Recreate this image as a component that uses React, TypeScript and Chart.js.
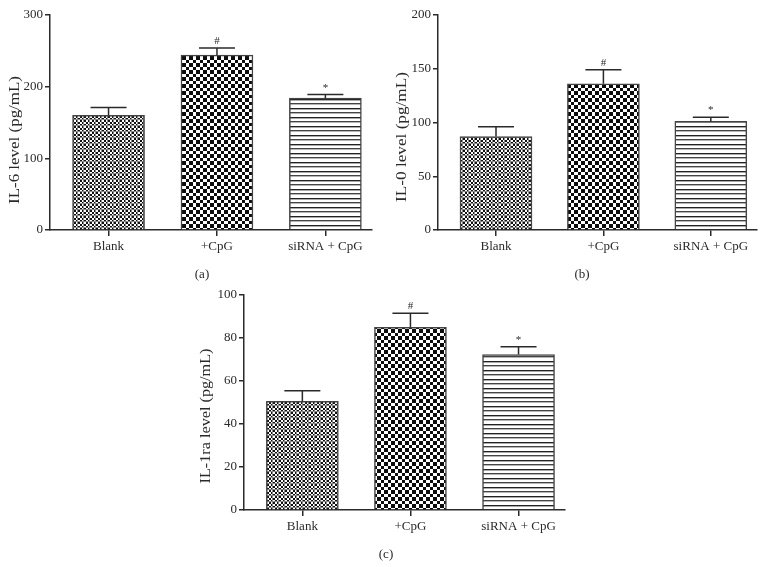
import React, { useEffect, useRef } from 'react';
import { Chart, registerables } from 'chart.js';

Chart.register(...registerables);

const categories = ['Blank', '+CpG', 'siRNA + CpG'];
const markers = ['', '#', '*'];

const il6Means = [160, 244, 184];
const il6Errors = [11, 10, 5];
const il0Means = [87, 136, 101];
const il0Errors = [9, 13, 4];
const il1raMeans = [50.5, 85, 72.3];
const il1raErrors = [5, 6.5, 3.6];

const yMaxes = [300, 200, 100];
const ySteps = [100, 50, 20];
const yTitles = ['IL-6 level (pg/mL)', 'IL-0 level (pg/mL)', 'IL-1ra level (pg/mL)'];
const panelLabels = ['(a)', '(b)', '(c)'];

const FONT = '"Liberation Serif", "Times New Roman", serif';
const INK = '#2a2a2a';

type Panel = {
  means: number[];
  errors: number[];
  yMax: number;
  yStep: number;
  title: string;
  label: string;
  left: number;
  top: number;
  width: number;
  height: number;
  area: { l: number; r: number; t: number; b: number };
  titlePos: { x: number; y: number; len: number };
  labelPos: { x: number; y: number };
};

const panels: Panel[] = [
  {
    means: il6Means, errors: il6Errors, yMax: yMaxes[0], yStep: ySteps[0], title: yTitles[0], label: panelLabels[0],
    left: 0, top: 0, width: 385, height: 290,
    area: { l: 50, r: 372, t: 15, b: 230 },
    titlePos: { x: 15, y: 140, len: 128 },
    labelPos: { x: 202, y: 275 },
  },
  {
    means: il0Means, errors: il0Errors, yMax: yMaxes[1], yStep: ySteps[1], title: yTitles[1], label: panelLabels[1],
    left: 385, top: 0, width: 390, height: 290,
    area: { l: 53, r: 372, t: 15, b: 230 },
    titlePos: { x: 17, y: 137, len: 130 },
    labelPos: { x: 197, y: 275 },
  },
  {
    means: il1raMeans, errors: il1raErrors, yMax: yMaxes[2], yStep: ySteps[2], title: yTitles[2], label: panelLabels[2],
    left: 195, top: 280, width: 390, height: 287,
    area: { l: 49, r: 370, t: 15, b: 230 },
    titlePos: { x: 11, y: 136, len: 135 },
    labelPos: { x: 191, y: 275 },
  },
];

function makePattern(kind: number): CanvasPattern | string {
  const c = document.createElement('canvas');
  let w = 12, h = 12;
  if (kind === 1) { w = 7; h = 7; }
  if (kind === 2) { w = 9; h = 9; }
  c.width = w; c.height = h;
  const g = c.getContext('2d');
  if (!g) return '#888';
  g.fillStyle = '#fff';
  g.fillRect(0, 0, w, h);
  for (let i = 0; i < w; i++) {
    for (let j = 0; j < h; j++) {
      let col: string;
      if (kind === 0) {
        const black = (Math.floor(i / 2) + Math.floor(j / 2)) % 2 === 0;
        col = black ? '#111' : '#fff';
        if (i % 6 === 5 || j % 6 === 5) col = '#8a8a8a';
      } else if (kind === 1) {
        const a = i < 4 ? 0 : 1;
        const b = j < 4 ? 0 : 1;
        col = (a ^ b) === 0 ? '#0c0c0c' : '#fff';
      } else {
        if (j === 0) col = '#222';
        else if (j === 1) col = '#aaa';
        else if (j === 4) col = '#444';
        else if (j === 5) col = '#b5b5b5';
        else col = '#fff';
      }
      g.fillStyle = col;
      g.fillRect(i, j, 1, 1);
    }
  }
  const p = g.createPattern(c, 'repeat');
  return p || '#888';
}

function buildChart(canvas: HTMLCanvasElement, p: Panel): Chart {
  const patterns = [makePattern(0), makePattern(1), makePattern(2)];
  const overlay = {
    id: 'overlay',
    afterDatasetsDraw(chart: any) {
      const ctx = chart.ctx as CanvasRenderingContext2D;
      const xs = chart.scales.x;
      const ys = chart.scales.y;
      ctx.save();
      ctx.strokeStyle = INK;
      ctx.lineWidth = 1.5;
      p.means.forEach((m, i) => {
        const cx = xs.getPixelForValue(i);
        const yb = ys.getPixelForValue(m);
        const yt = ys.getPixelForValue(m + p.errors[i]);
        ctx.beginPath();
        ctx.moveTo(cx, yb);
        ctx.lineTo(cx, yt);
        ctx.moveTo(cx - 18, yt);
        ctx.lineTo(cx + 18, yt);
        ctx.stroke();
        if (markers[i]) {
          ctx.fillStyle = INK;
          ctx.font = `11px ${FONT}`;
          ctx.textAlign = 'center';
          ctx.textBaseline = 'alphabetic';
          ctx.fillText(markers[i], cx, yt - 4);
        }
      });
      ctx.restore();
    },
    afterDraw(chart: any) {
      const ctx = chart.ctx as CanvasRenderingContext2D;
      ctx.save();
      ctx.fillStyle = INK;
      ctx.font = `14px ${FONT}`;
      ctx.textAlign = 'center';
      ctx.textBaseline = 'middle';
      ctx.translate(p.titlePos.x, p.titlePos.y);
      ctx.rotate(-Math.PI / 2);
      const w = ctx.measureText(p.title).width;
      ctx.scale(p.titlePos.len / w, 1);
      ctx.fillText(p.title, 0, 0);
      ctx.restore();
      ctx.save();
      ctx.fillStyle = INK;
      ctx.font = `13px ${FONT}`;
      ctx.textAlign = 'center';
      ctx.textBaseline = 'middle';
      ctx.fillText(p.label, p.labelPos.x, p.labelPos.y);
      ctx.restore();
    },
  };

  return new Chart(canvas, {
    type: 'bar',
    data: {
      datasets: [
        {
          data: p.means.map((v, i) => ({ x: i, y: v })),
          backgroundColor: patterns as any,
          borderColor: '#444',
          borderWidth: 1.5,
          barThickness: 72,
        } as any,
      ],
    },
    options: {
      responsive: false,
      animation: false,
      layout: { padding: { left: 0, top: p.area.t, right: p.width - p.area.r, bottom: 0 } },
      plugins: { legend: { display: false }, tooltip: { enabled: false } },
      scales: {
        x: {
          type: 'linear',
          offset: false,
          min: -0.54,
          max: 2.43,
          afterBuildTicks: (s: any) => {
            s.ticks = categories.map((_, i) => ({ value: i }));
          },
          afterFit: (s: any) => {
            s.height = p.height - p.area.b;
          },
          grid: { display: true, offset: false, drawOnChartArea: false, drawTicks: true, tickLength: 6, color: INK, lineWidth: 1.5 },
          border: { display: true, color: INK, width: 1.5 },
          ticks: {
            callback: (v: any) => categories[v as number] ?? '',
            font: { family: FONT, size: 13 },
            color: INK,
            padding: 3,
            autoSkip: false,
            maxRotation: 0,
          },
        },
        y: {
          min: 0,
          max: p.yMax,
          afterFit: (s: any) => {
            s.width = p.area.l;
          },
          grid: { display: true, drawOnChartArea: false, drawTicks: true, tickLength: 5, color: INK, lineWidth: 1.5 },
          border: { display: true, color: INK, width: 1.5 },
          ticks: {
            stepSize: p.yStep,
            font: { family: FONT, size: 13 },
            color: INK,
            padding: 2,
          },
        },
      },
    } as any,
    plugins: [overlay],
  });
}

export default function App() {
  const refs = [useRef<HTMLCanvasElement>(null), useRef<HTMLCanvasElement>(null), useRef<HTMLCanvasElement>(null)];
  useEffect(() => {
    const charts: Chart[] = [];
    panels.forEach((p, i) => {
      const c = refs[i].current;
      if (c) charts.push(buildChart(c, p));
    });
    return () => charts.forEach((c) => c.destroy());
  }, []);
  return (
    <div style={{ position: 'fixed', left: 0, top: 0, width: 775, height: 567, background: '#fff', overflow: 'hidden' }}>
      {panels.map((p, i) => (
        <canvas
          key={i}
          ref={refs[i]}
          width={p.width}
          height={p.height}
          style={{ position: 'absolute', left: p.left, top: p.top, width: p.width, height: p.height, display: 'block' }}
        />
      ))}
    </div>
  );
}
